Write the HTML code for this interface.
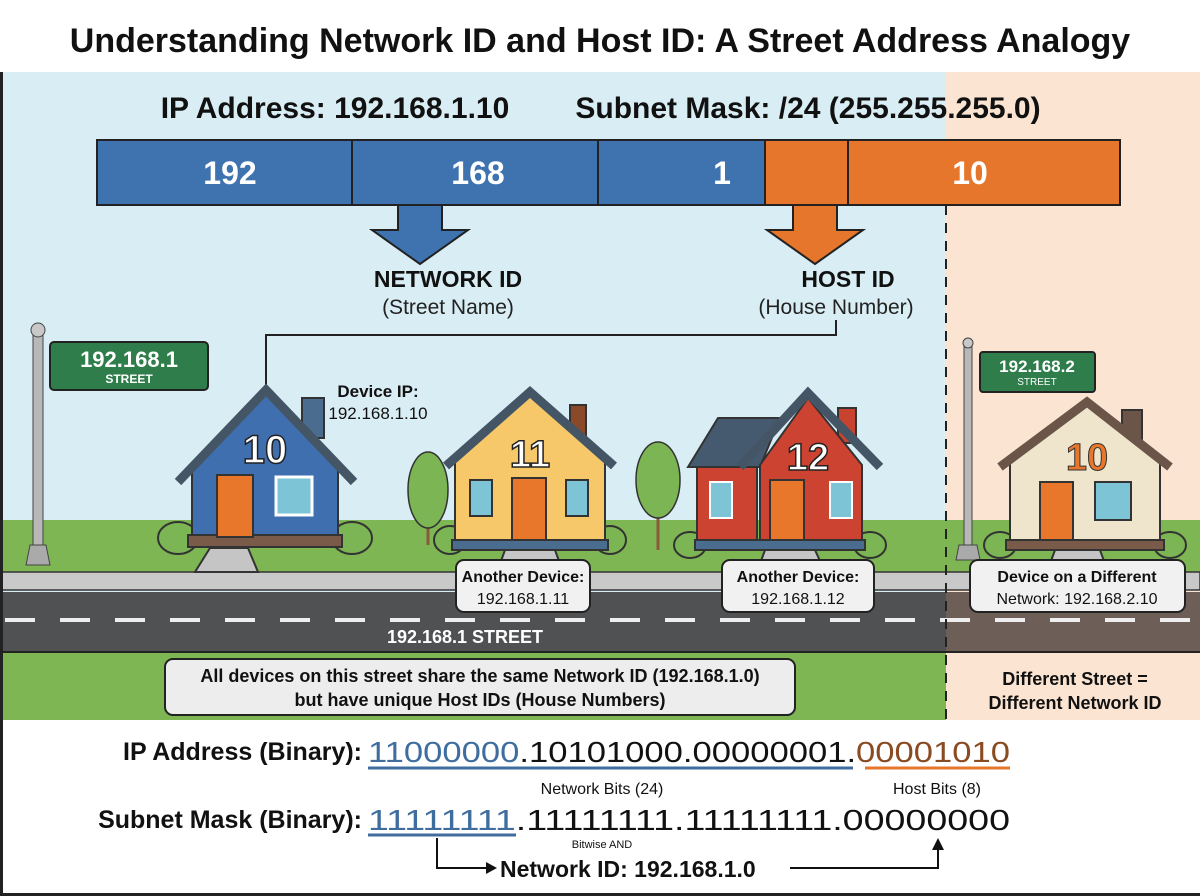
<!DOCTYPE html>
<html><head><meta charset="utf-8"><style>
html,body{margin:0;padding:0;background:#fff}
svg{display:block}
text{font-family:"Liberation Sans",sans-serif}
</style></head><body>
<svg width="1200" height="896" viewBox="0 0 1200 896" xmlns="http://www.w3.org/2000/svg">
<rect width="1200" height="896" fill="#fff"/>
<rect x="0" y="72" width="946" height="648" fill="#d9edf4"/>
<rect x="946" y="72" width="254" height="648" fill="#fbe4d2"/>
<text x="600" y="52" font-size="34" font-weight="bold" text-anchor="middle" fill="#111">Understanding Network ID and Host ID: A Street Address Analogy</text>
<text x="335" y="118" font-size="30" font-weight="bold" text-anchor="middle" fill="#111">IP Address: 192.168.1.10</text>
<text x="808" y="118" font-size="30" font-weight="bold" text-anchor="middle" fill="#111">Subnet Mask: /24 (255.255.255.0)</text>
<rect x="97" y="140" width="668" height="65" fill="#3f73b0" stroke="#222" stroke-width="2"/>
<rect x="765" y="140" width="355" height="65" fill="#e6762b" stroke="#222" stroke-width="2"/>
<g stroke="#222" stroke-width="2"><line x1="352" y1="140" x2="352" y2="205"/><line x1="598" y1="140" x2="598" y2="205"/><line x1="848" y1="140" x2="848" y2="205"/></g>
<g font-size="32" font-weight="bold" fill="#fff" text-anchor="middle"><text x="230" y="184">192</text><text x="478" y="184">168</text><text x="722" y="184">1</text><text x="970" y="184">10</text></g>
<path d="M398 205 L442 205 L442 230 L468 230 L420 264 L372 230 L398 230 Z" fill="#3f73b0" stroke="#222" stroke-width="2"/>
<path d="M793 205 L837 205 L837 230 L863 230 L815 264 L767 230 L793 230 Z" fill="#e6762b" stroke="#222" stroke-width="2"/>
<text x="448" y="287" font-size="23" font-weight="bold" text-anchor="middle" fill="#111">NETWORK ID</text>
<text x="448" y="314" font-size="21" text-anchor="middle" fill="#222">(Street Name)</text>
<text x="848" y="287" font-size="23" font-weight="bold" text-anchor="middle" fill="#111">HOST ID</text>
<text x="836" y="314" font-size="21" text-anchor="middle" fill="#222">(House Number)</text>
<path d="M266 388 L266 335 L836 335 L836 320" fill="none" stroke="#222" stroke-width="2"/>
<rect x="0" y="520" width="946" height="52" fill="#7db653"/>
<rect x="946" y="520" width="254" height="52" fill="#7db653"/>
<rect x="0" y="572" width="1200" height="18" fill="#c9c9c9" stroke="#333" stroke-width="1.5"/>
<rect x="0" y="592" width="946" height="60" fill="#4f5153"/>
<rect x="946" y="592" width="254" height="60" fill="#6d5f58"/>
<line x1="0" y1="620" x2="1200" y2="620" stroke="#eee" stroke-width="4" stroke-dasharray="30,25" stroke-dashoffset="-5"/>
<line x1="0" y1="652" x2="1200" y2="652" stroke="#222" stroke-width="2"/>
<rect x="0" y="653" width="946" height="67" fill="#7db653"/>
<rect x="946" y="653" width="254" height="67" fill="#fbe4d2"/>
<text x="465" y="643" font-size="18" font-weight="bold" text-anchor="middle" fill="#fff">192.168.1 STREET</text>
<line x1="946" y1="205" x2="946" y2="720" stroke="#222" stroke-width="2" stroke-dasharray="10,8"/>
<rect x="33" y="335" width="10" height="220" fill="#b8b8b8" stroke="#444"/>
<circle cx="38" cy="330" r="7" fill="#c8c8c8" stroke="#444"/>
<path d="M26 565 L50 565 L46 545 L30 545 Z" fill="#aaa" stroke="#444"/>
<rect x="50" y="342" width="158" height="48" rx="4" fill="#2e7d4b" stroke="#222" stroke-width="2"/>
<text x="129" y="367" font-size="22" font-weight="bold" fill="#fff" text-anchor="middle">192.168.1</text>
<text x="129" y="383" font-size="12" font-weight="bold" fill="#fff" text-anchor="middle">STREET</text>
<rect x="964" y="345" width="8" height="205" fill="#b8b8b8" stroke="#444"/>
<circle cx="968" cy="343" r="5" fill="#c8c8c8" stroke="#444"/>
<path d="M956 560 L980 560 L977 545 L959 545 Z" fill="#aaa" stroke="#444"/>
<rect x="980" y="352" width="115" height="40" rx="3" fill="#2e7d4b" stroke="#222" stroke-width="2"/>
<text x="1037" y="372" font-size="17" font-weight="bold" fill="#fff" text-anchor="middle">192.168.2</text>
<text x="1037" y="385" font-size="10" fill="#fff" text-anchor="middle">STREET</text>
<g stroke="#333" stroke-width="1.5"><line x1="428" y1="470" x2="428" y2="545" stroke="#8a5a3a" stroke-width="3"/><ellipse cx="428" cy="490" rx="20" ry="38" fill="#7cb553"/>
<line x1="658" y1="480" x2="658" y2="550" stroke="#8a5a3a" stroke-width="3"/><ellipse cx="658" cy="480" rx="22" ry="38" fill="#7cb553"/></g>
<g stroke="#333" stroke-width="2">
<ellipse cx="178" cy="538" rx="20" ry="16" fill="#7cb553"/><ellipse cx="352" cy="538" rx="20" ry="16" fill="#7cb553"/>
<rect x="302" y="398" width="22" height="40" fill="#4a6c8f"/>
<polygon points="192,467 266,392 338,465 338,535 192,535" fill="#3f6fae"/>
<polyline points="178,482 266,390 354,482" fill="none" stroke="#445566" stroke-width="9"/>
<rect x="188" y="535" width="154" height="12" fill="#7a5a48"/>
<rect x="217" y="475" width="36" height="62" fill="#e8762b"/>
<rect x="276" y="477" width="36" height="38" fill="#7cc4d6" stroke="#fff" stroke-width="3"/>
<polygon points="210,548 248,548 258,572 195,572" fill="#c5c5c5"/>
</g>
<text x="265" y="463" font-size="40" font-weight="bold" fill="#fff" stroke="#222" stroke-width="1.5" text-anchor="middle">10</text>
<text x="378" y="397" font-size="17" font-weight="bold" text-anchor="middle" fill="#111">Device IP:</text>
<text x="378" y="419" font-size="17" text-anchor="middle" fill="#111">192.168.1.10</text>
<g stroke="#333" stroke-width="2">
<ellipse cx="450" cy="540" rx="16" ry="14" fill="#7cb553"/><ellipse cx="610" cy="540" rx="16" ry="14" fill="#7cb553"/>
<rect x="570" y="405" width="16" height="35" fill="#8a4a2a"/>
<polygon points="455,460 530,395 605,460 605,540 455,540" fill="#f6c86a"/>
<polyline points="446,466 530,392 614,466" fill="none" stroke="#445566" stroke-width="9"/>
<rect x="452" y="540" width="156" height="10" fill="#4a6c8f"/>
<rect x="512" y="478" width="34" height="62" fill="#e8762b"/>
<rect x="470" y="480" width="22" height="36" fill="#7cc4d6"/>
<rect x="566" y="480" width="22" height="36" fill="#7cc4d6"/>
<polygon points="505,550 555,550 563,572 497,572" fill="#c5c5c5"/>
</g>
<text x="530" y="467" font-size="38" font-weight="bold" fill="#fff" stroke="#222" stroke-width="1.5" text-anchor="middle">11</text>
<g stroke="#333" stroke-width="2">
<ellipse cx="690" cy="545" rx="16" ry="13" fill="#7cb553"/><ellipse cx="870" cy="545" rx="16" ry="13" fill="#7cb553"/>
<rect x="838" y="408" width="18" height="35" fill="#c8432f"/>
<rect x="697" y="465" width="60" height="75" fill="#cc4332"/>
<polygon points="688,467 718,418 780,418 760,467" fill="#455a6e"/>
<polygon points="760,465 808,398 862,465 862,540 760,540" fill="#cc4332"/>
<polyline points="740,467 808,393 880,467" fill="none" stroke="#445566" stroke-width="9"/>
<rect x="695" y="540" width="170" height="10" fill="#4a6c8f"/>
<rect x="770" y="480" width="34" height="60" fill="#e8762b"/>
<rect x="710" y="482" width="22" height="36" fill="#7cc4d6" stroke="#fff" stroke-width="2"/>
<rect x="830" y="482" width="22" height="36" fill="#7cc4d6" stroke="#fff" stroke-width="2"/>
<polygon points="765,550 815,550 825,572 757,572" fill="#c5c5c5"/>
</g>
<text x="808" y="470" font-size="38" font-weight="bold" fill="#fff" stroke="#222" stroke-width="1.5" text-anchor="middle">12</text>
<g stroke="#333" stroke-width="2">
<ellipse cx="1000" cy="545" rx="16" ry="13" fill="#7cb553"/><ellipse cx="1170" cy="545" rx="16" ry="13" fill="#7cb553"/>
<rect x="1122" y="410" width="20" height="35" fill="#6b5548"/>
<polygon points="1010,460 1087,405 1160,460 1160,540 1010,540" fill="#efe5cc"/>
<polyline points="1000,467 1087,402 1170,467" fill="none" stroke="#6b5548" stroke-width="9"/>
<rect x="1006" y="540" width="158" height="10" fill="#7a5a48"/>
<rect x="1040" y="482" width="33" height="58" fill="#e8762b"/>
<rect x="1095" y="482" width="36" height="38" fill="#7cc4d6"/>
<polygon points="1055,550 1100,550 1108,572 1047,572" fill="#c5c5c5"/>
</g>
<text x="1087" y="470" font-size="38" font-weight="bold" fill="#e8762b" stroke="#333" stroke-width="1" text-anchor="middle">10</text>
<g fill="#f1f1f1" stroke="#222" stroke-width="2">
<rect x="456" y="560" width="134" height="52" rx="8"/>
<rect x="722" y="560" width="152" height="52" rx="8"/>
<rect x="970" y="560" width="215" height="52" rx="8"/>
<rect x="165" y="659" width="630" height="56" rx="8" fill="#ededed"/>
</g>
<g font-size="16" text-anchor="middle" fill="#111">
<text x="523" y="582" font-weight="bold">Another Device:</text><text x="523" y="604">192.168.1.11</text>
<text x="798" y="582" font-weight="bold">Another Device:</text><text x="798" y="604">192.168.1.12</text>
<text x="1077" y="582" font-weight="bold">Device on a Different</text><text x="1077" y="604">Network: 192.168.2.10</text>
<text x="480" y="682" font-size="18" font-weight="bold">All devices on this street share the same Network ID (192.168.1.0)</text>
<text x="480" y="706" font-size="18" font-weight="bold">but have unique Host IDs (House Numbers)</text>
<text x="1075" y="685" font-size="18" font-weight="bold">Different Street =</text>
<text x="1075" y="709" font-size="18" font-weight="bold">Different Network ID</text>
</g>
<text x="362" y="760" font-size="25" font-weight="bold" text-anchor="end" fill="#111">IP Address (Binary):</text>
<text x="368" y="762" font-size="29" fill="#111" textLength="642" lengthAdjust="spacingAndGlyphs"><tspan fill="#3f6e9e">11000000</tspan>.10101000.00000001.<tspan fill="#8a4a22">00001010</tspan></text>
<line x1="368" y1="768" x2="853" y2="768" stroke="#3f6e9e" stroke-width="3"/>
<line x1="865" y1="768" x2="1010" y2="768" stroke="#e6762b" stroke-width="3"/>
<text x="602" y="794" font-size="16" text-anchor="middle" fill="#111">Network Bits (24)</text>
<text x="937" y="794" font-size="16" text-anchor="middle" fill="#111">Host Bits (8)</text>
<text x="362" y="828" font-size="25" font-weight="bold" text-anchor="end" fill="#111">Subnet Mask (Binary):</text>
<text x="368" y="830" font-size="29" fill="#111" textLength="642" lengthAdjust="spacingAndGlyphs"><tspan fill="#3f6e9e">11111111</tspan>.11111111.11111111.00000000</text>
<line x1="368" y1="835" x2="516" y2="835" stroke="#3f6e9e" stroke-width="3"/>
<text x="602" y="848" font-size="11" text-anchor="middle" fill="#111">Bitwise AND</text>
<path d="M437 838 L437 868 L488 868" fill="none" stroke="#111" stroke-width="2"/>
<polygon points="486,862 497,868 486,874" fill="#111"/>
<text x="500" y="877" font-size="23" font-weight="bold" fill="#111">Network ID: 192.168.1.0</text>
<path d="M790 868 L938 868 L938 848" fill="none" stroke="#111" stroke-width="2"/>
<polygon points="932,850 938,838 944,850" fill="#111"/>
<rect x="0" y="72" width="3" height="824" fill="#222"/>
<rect x="0" y="893" width="1200" height="3" fill="#222"/>
</svg>
</body></html>
